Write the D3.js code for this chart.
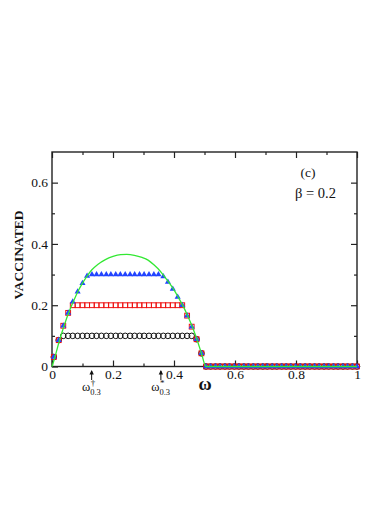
<!DOCTYPE html>
<html>
<head>
<meta charset="utf-8">
<script src="https://cdn.jsdelivr.net/npm/d3@7"></script>
<style>
  html, body { margin: 0; padding: 0; background: #fff; }
  svg { display: block; }
  svg text { font-family: "Liberation Serif", "DejaVu Serif", serif; fill: #111; }
</style>
</head>
<body>
<svg id="chart" width="390" height="505"></svg>
<script>
// ---- data ----
const omega = [0.006,0.022,0.037,0.053,0.068,0.084,0.100,0.115,0.131,0.146,0.162,0.178,0.193,0.209,0.224,0.240,
  0.256,0.271,0.287,0.302,0.318,0.334,0.349,0.365,0.380,0.396,0.412,0.427,0.443,0.458,0.474,0.490,
  0.505,0.520,0.536,0.551,0.567,0.582,0.598,0.613,0.629,0.644,0.660,0.675,0.691,0.706,0.722,0.737,
  0.753,0.768,0.783,0.799,0.814,0.830,0.845,0.861,0.876,0.892,0.907,0.923,0.938,0.954,0.969,0.985,1.000];

const circles = [0.031,0.086,
  0.1,0.1,0.1,0.1,0.1,0.1,0.1,0.1,0.1,0.1,0.1,0.1,0.1,0.1,
  0.1,0.1,0.1,0.1,0.1,0.1,0.1,0.1,0.1,0.1,0.1,0.1,0.1,0.1,
  0.089,0.043,
  0,0,0,0,0,0,0,0,0,0,0,0,0,0,0,0,0,0,0,0,0,0,0,0,0,0,0,0,0,0,0,0,0];

const squares = [0.031,0.086,0.133,0.175,
  0.2,0.2,0.2,0.2,0.2,0.2,0.2,0.2,0.2,0.2,0.2,0.2,
  0.2,0.2,0.2,0.2,0.2,0.2,0.2,0.2,0.2,0.2,0.2,0.2,
  0.166,0.130,0.089,0.043,
  0,0,0,0,0,0,0,0,0,0,0,0,0,0,0,0,0,0,0,0,0,0,0,0,0,0,0,0,0,0,0,0,0];

const triangles = [0.031,0.086,0.133,0.175,0.211,0.244,0.272,0.295,
  0.3,0.3,0.3,0.3,0.3,0.3,0.3,0.3,0.3,0.3,0.3,0.3,0.3,0.3,0.3,
  0.294,0.276,0.253,0.227,0.200,0.166,0.130,0.089,0.043,
  0,0,0,0,0,0,0,0,0,0,0,0,0,0,0,0,0,0,0,0,0,0,0,0,0,0,0,0,0,0,0,0,0];

const curveOmega = [0,0.01,0.025,0.04,0.055,0.07,0.085,0.1,0.115,0.13,0.15,0.175,0.2,0.225,0.245,0.27,0.295,0.315,0.335,0.355,0.37,0.385,0.4,0.415,0.43,0.445,0.46,0.475,0.49,0.505,1.0];
const curveValue = [0,0.032,0.087,0.134,0.176,0.212,0.245,0.272,0.295,0.315,0.333,0.349,0.359,0.365,0.366,0.363,0.356,0.347,0.331,0.311,0.292,0.272,0.250,0.224,0.197,0.165,0.130,0.089,0.043,0,0];

const xTickLabels = ["0","0.2","0.4","0.6","0.8","1"];
const xMajor = [0,0.2,0.4,0.6,0.8,1.0];
const xMinor = [0.1,0.3,0.5,0.7,0.9];
const yTickLabels = ["0","0.2","0.4","0.6"];
const yMajor = [0,0.2,0.4,0.6];
const yMinor = [0.1,0.3,0.5];

const marks = [ {w: 0.130, sup: "\u2020"}, {w: 0.357, sup: "*"} ];

// ---- layout ----
const FONT = "'Liberation Serif', 'DejaVu Serif', serif";
const svg = d3.select("#chart");
svg.append("rect").attr("width",390).attr("height",505).attr("fill","#fff");
const L = 52, R = 357, T = 152, B = 366.5;
const x = d3.scaleLinear().domain([0,1]).range([L,R]);
const y = d3.scaleLinear().domain([0,0.7]).range([B,T]);
const axisColor = "#222";

function styleAxis(g){
  g.attr("font-family", null).attr("font-size", null);
  g.select(".domain").remove();
  g.selectAll("line").attr("stroke",axisColor).attr("stroke-width",1.2);
  g.selectAll("text").style("font-size","13.5px").style("font-family",FONT).attr("fill","#111");
}

svg.append("g").attr("transform",`translate(0,${B})`)
  .call(d3.axisBottom(x).tickValues(xMajor).tickSize(-6).tickPadding(3)
    .tickFormat((d,i)=>xTickLabels[i])).call(styleAxis);
svg.append("g").attr("transform",`translate(0,${B})`)
  .call(d3.axisBottom(x).tickValues(xMinor).tickSize(-3).tickFormat("")).call(styleAxis);
svg.append("g").attr("transform",`translate(0,${T})`)
  .call(d3.axisTop(x).tickValues(xMajor).tickSize(-6).tickFormat("")).call(styleAxis);
svg.append("g").attr("transform",`translate(0,${T})`)
  .call(d3.axisTop(x).tickValues(xMinor).tickSize(-3).tickFormat("")).call(styleAxis);
svg.append("g").attr("transform",`translate(${L},0)`)
  .call(d3.axisLeft(y).tickValues(yMajor).tickSize(-6).tickPadding(4)
    .tickFormat((d,i)=>yTickLabels[i])).call(styleAxis);
svg.append("g").attr("transform",`translate(${L},0)`)
  .call(d3.axisLeft(y).tickValues(yMinor).tickSize(-3).tickFormat("")).call(styleAxis);
svg.append("g").attr("transform",`translate(${R},0)`)
  .call(d3.axisRight(y).tickValues(yMajor).tickSize(-6).tickFormat("")).call(styleAxis);
svg.append("g").attr("transform",`translate(${R},0)`)
  .call(d3.axisRight(y).tickValues(yMinor).tickSize(-3).tickFormat("")).call(styleAxis);

svg.append("rect").attr("x",L).attr("y",T).attr("width",R-L).attr("height",B-T)
  .attr("fill","none").attr("stroke",axisColor).attr("stroke-width",1.4);

// ---- series ----
const pts = (vals)=>omega.map((w,i)=>({w, v: vals[i]}));

svg.append("g").selectAll("circle").data(pts(circles)).join("circle")
  .attr("cx",d=>x(d.w)).attr("cy",d=>y(d.v)).attr("r",2.8)
  .attr("fill","none").attr("stroke","#111").attr("stroke-width",1);

svg.append("g").selectAll("rect").data(pts(squares)).join("rect")
  .attr("x",d=>x(d.w)-2.4).attr("y",d=>y(d.v)-2.4).attr("width",4.8).attr("height",4.8)
  .attr("fill","none").attr("stroke","#ee1111").attr("stroke-width",1);

const tri = d3.symbol().type(d3.symbolTriangle).size(16);
svg.append("g").selectAll("path").data(pts(triangles)).join("path")
  .attr("transform",d=>`translate(${x(d.w)},${y(d.v)})`).attr("d",tri)
  .attr("fill","#2244ff");

const line = d3.line().x(d=>x(d[0])).y(d=>y(d[1])).curve(d3.curveMonotoneX);
svg.append("path").datum(curveOmega.map((w,i)=>[w,curveValue[i]]))
  .attr("d",line).attr("fill","none").attr("stroke","#33e833").attr("stroke-width",1.3);

// ---- texts ----
function txt(xx, yy, s, size, opts={}){
  const t = svg.append("text").attr("x",xx).attr("y",yy).text(s)
    .style("font-family",FONT).style("font-size",size+"px");
  if (opts.anchor) t.attr("text-anchor",opts.anchor);
  if (opts.bold) t.style("font-weight","bold");
  if (opts.transform) t.attr("transform",opts.transform).attr("x",null).attr("y",null);
  return t;
}

txt(205, 390, "\u03c9", 18, {anchor:"middle", bold:true});
txt(0, 0, "VACCINATED", 13.5, {anchor:"middle", bold:true, transform:"translate(23,255) rotate(-90)"});
txt(308, 177, "(c)", 13.5, {anchor:"middle"});
txt(295, 198, "\u03b2 = 0.2", 14.5);

marks.forEach(m=>{
  const cx = x(m.w);
  svg.append("line").attr("x1",cx).attr("x2",cx).attr("y1",371).attr("y2",380)
    .attr("stroke","#111").attr("stroke-width",1);
  svg.append("path").attr("d",`M${cx-2.2},${374.5} L${cx},${370} L${cx+2.2},${374.5} Z`)
    .attr("fill","#111");
  txt(cx-1.5, 391, "\u03c9", 12.5, {anchor:"end"});
  txt(cx-1, 386, m.sup, 9);
  txt(cx-1.5, 395, "0.3", 8.5);
});
</script>
</body>
</html>
